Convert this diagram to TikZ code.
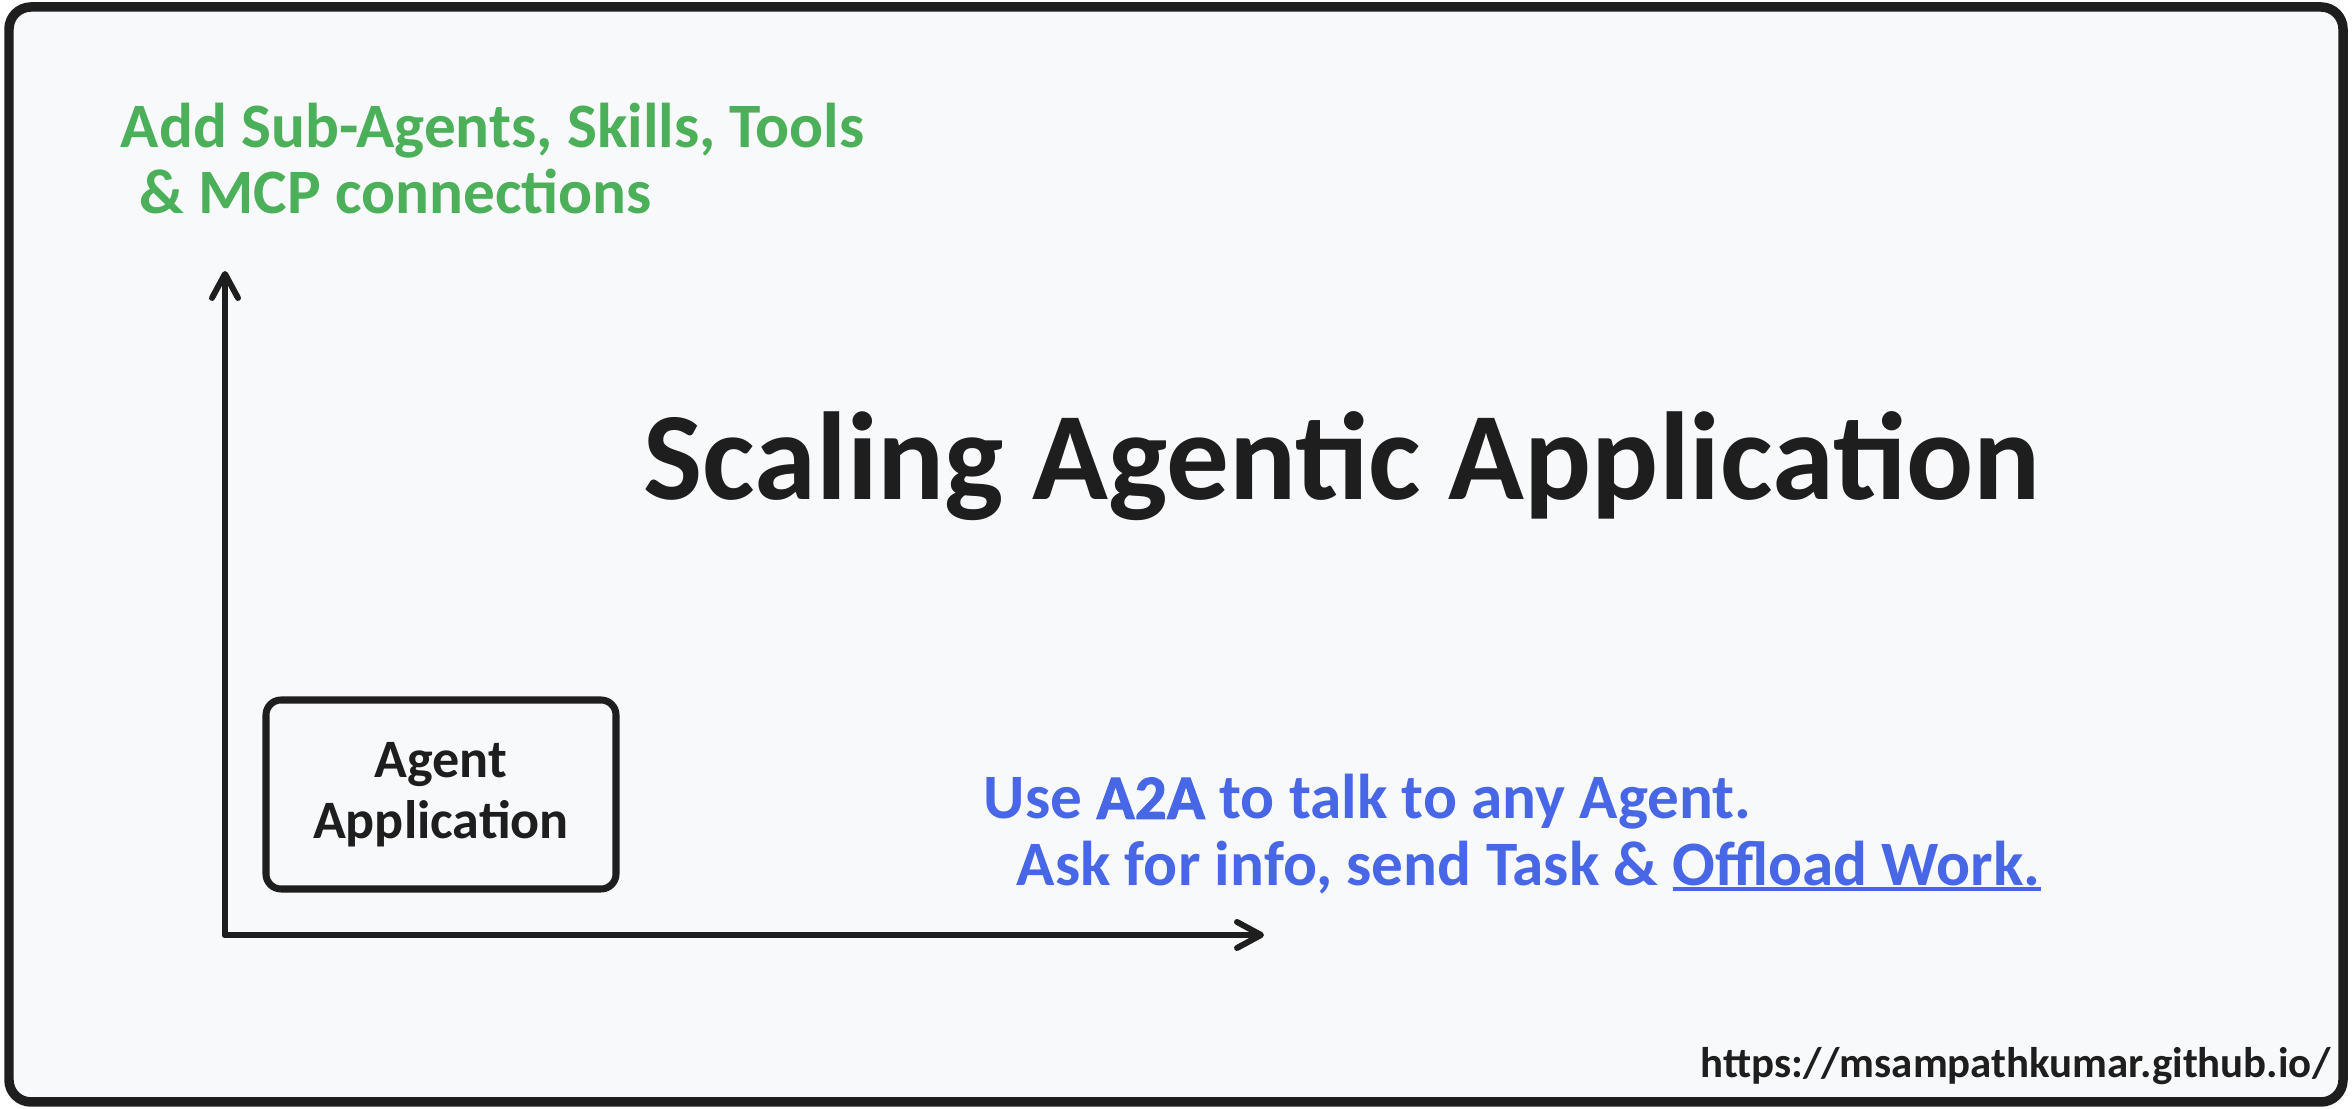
\documentclass[tikz,border=0pt]{standalone}
\usepackage{fontspec}
\setmainfont{Carlito}
\newfontface\heavyfont{Carlito Bold}[FakeBold=1.5]
\usetikzlibrary{arrows.meta}
\definecolor{ink}{HTML}{1E1E1E}
\definecolor{paper}{HTML}{F8F9FA}
\definecolor{leafgreen}{HTML}{4CAF5A}
\definecolor{linkblue}{HTML}{4767E6}
\newcommand{\linkline}[1]{\setbox0\hbox{#1}\rlap{\rule[-0.05cm]{\wd0}{0.035cm}}\box0}
\tikzset{
	label text/.style = {font = \bfseries\fontsize{18}{21}\selectfont, anchor = base west, inner sep = 0},
	axis/.style = {draw = ink, line width = 1.7pt, line cap = round, -{Straight Barb[length = 2.4mm, width = 2.6mm, line cap = round, line join = round]}},
}
\begin{document}
\begin{tikzpicture}
	\useasboundingbox (0, 0) rectangle (23.52, 11.09);
	\fill [white] (0, 0) rectangle (23.52, 11.09);
	\draw [ink, fill = paper, line width = 2.7pt, rounded corners = 0.22cm] (0.09, 0.07) rectangle (23.43, 11.02);
	\node [label text, text = leafgreen] (skills) at (1.20, 9.61) {Add Sub-Agents, Skills, Tools};
	\node [label text, text = leafgreen] (mcp) at (1.39, 8.95) {\& MCP connections};
	\node [font = \bfseries\fontsize{35.6}{42}\selectfont, text = ink, anchor = base, inner sep = 0] (title) at (13.42, 6.09) {Scaling Agentic Application};
	\node [draw = ink, line width = 2pt, rounded corners = 0.15cm, minimum width = 3.5cm, minimum height = 1.89cm, align = center, font = \bfseries\fontsize{15.4}{17.5}\selectfont, text = ink] (agent) at (4.41, 3.145) {Agent\\Application};
	\node [label text, text = linkblue] (a2a) at (9.83, 2.90) {Use {\heavyfont A2A} to talk to any Agent.};
	\node [label text, text = linkblue] (offload) at (10.16, 2.23) {Ask for info, send Task \& \linkline{Offload Work.}};
	\node [font = \bfseries\fontsize{12.2}{14}\selectfont, text = ink, anchor = base east, inner sep = 0] (url) at (23.31, 0.31) {https://msampathkumar.github.io/};
	\coordinate (origin) at (2.25, 1.74);
	\coordinate (ytop) at (2.25, 8.38);
	\coordinate (xend) at (12.64, 1.74);
	\draw [axis] (origin) to (ytop);
	\draw [axis] (origin) to (xend);
\end{tikzpicture}
\end{document}
